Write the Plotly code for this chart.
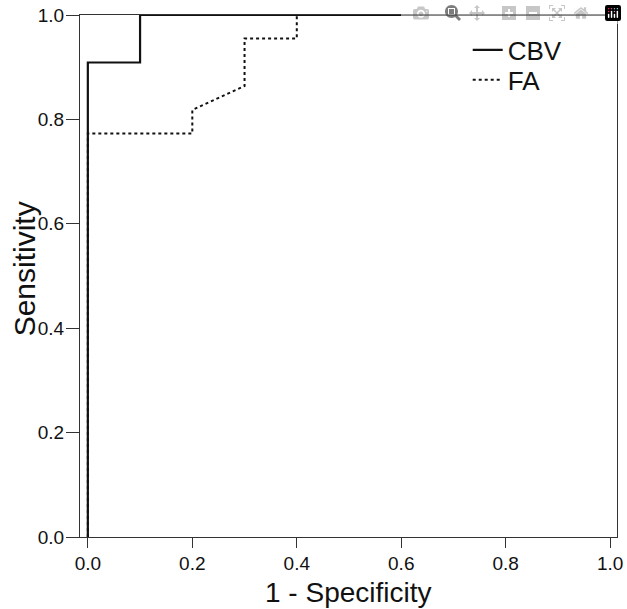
import plotly.graph_objects as go

# ROC curve points (1 - specificity, sensitivity)
cbv_fpr = [0.0, 0.0, 0.1, 0.1, 1.0]
cbv_tpr = [0.0, 0.909, 0.909, 1.0, 1.0]

fa_fpr = [0.0, 0.0, 0.2, 0.2, 0.3, 0.3, 0.4, 0.4, 1.0]
fa_tpr = [0.0, 0.773, 0.773, 0.818, 0.864, 0.955, 0.955, 1.0, 1.0]

tick_vals = [0.0, 0.2, 0.4, 0.6, 0.8, 1.0]
tick_text = ['0.0', '0.2', '0.4', '0.6', '0.8', '1.0']

font = 'Liberation Sans, Arial, sans-serif'

fig = go.Figure()
fig.add_trace(go.Scatter(x=cbv_fpr, y=cbv_tpr, mode='lines', name='CBV',
                         line=dict(color='#111111', width=2.2), legend='legend'))
fig.add_trace(go.Scatter(x=fa_fpr, y=fa_tpr, mode='lines', name='FA',
                         line=dict(color='#111111', width=2, dash='dot'), legend='legend2'))

leg = dict(xanchor='left', yanchor='middle', bgcolor='rgba(0,0,0,0)',
           borderwidth=0, font=dict(size=26), itemwidth=30)

fig.update_layout(
    width=627, height=609,
    margin=dict(l=80, r=10, t=15, b=72),
    paper_bgcolor='white', plot_bgcolor='white',
    font=dict(family=font, color='#111111', size=19),
    showlegend=True,
    legend=dict(leg, x=0.722, y=0.933),
    legend2=dict(leg, x=0.722, y=0.876),
    annotations=[
        dict(text='1 - Specificity', x=0.5, y=-0.107, xref='paper', yref='paper',
             xanchor='center', yanchor='middle', showarrow=False,
             font=dict(size=28)),
        dict(text='Sensitivity', x=-0.104, y=0.513, xref='paper', yref='paper',
             xanchor='center', yanchor='middle', showarrow=False, textangle=-90,
             font=dict(size=30)),
    ],
)
fig.update_xaxes(
    range=[-0.015, 1.013], showgrid=False, zeroline=False, automargin=False,
    showline=True, linecolor='#333333', linewidth=1, mirror=True,
    ticks='outside', ticklen=10, tickcolor='#333333', tickwidth=1,
    tickvals=tick_vals, ticktext=tick_text, ticklabelstandoff=-1,
    ticklabeloverflow='allow',
)
fig.update_yaxes(
    range=[0, 1], showgrid=False, zeroline=False, automargin=False,
    showline=True, linecolor='#333333', linewidth=1, mirror=True,
    ticks='outside', ticklen=13, tickcolor='#333333', tickwidth=1,
    tickvals=tick_vals, ticktext=tick_text, ticklabelstandoff=-2,
    ticklabeloverflow='allow',
)

# drop the default 8px body margin so the figure fills the window exactly
fig.write_html('out.html', post_script="document.body.style.margin = '0';")
